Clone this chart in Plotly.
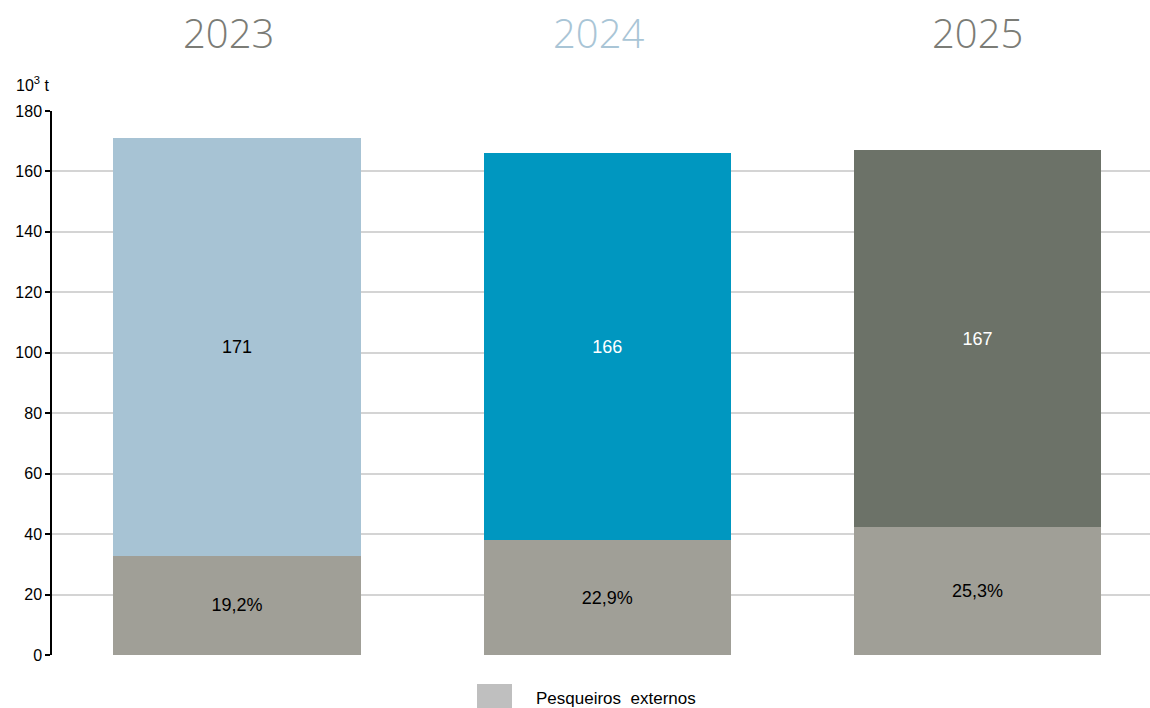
import plotly.graph_objects as go

years = ["2023", "2024", "2025"]
totals = [171, 166, 167]
ext_share = [19.2, 22.9, 25.3]
total_labels = ["171", "166", "167"]
share_labels = ["19,2%", "22,9%", "25,3%"]
top_colors = ["#a7c3d4", "#0097c0", "#6c7268"]
top_text_colors = ["#000000", "#ffffff", "#ffffff"]
bottom_color = "#a09f97"
year_colors = ["#7b7c76", "#a9c5d6", "#7b7c76"]
y_ticks = [0, 20, 40, 60, 80, 100, 120, 140, 160, 180]

bottom_vals = [t * s / 100 for t, s in zip(totals, ext_share)]
top_vals = [t - b for t, b in zip(totals, bottom_vals)]
xs = [0, 1, 2]

FONT = "Liberation Sans, Arial, sans-serif"

fig = go.Figure()
fig.add_trace(go.Bar(
    x=xs, y=bottom_vals, marker_color=bottom_color, width=0.668,
    marker_line_width=0,
    text=share_labels, textposition="inside", insidetextanchor="middle",
    textfont=dict(color="#000000", size=18, family=FONT),
    name="Pesqueiros externos", showlegend=False, hoverinfo="skip",
))
fig.add_trace(go.Bar(
    x=xs, y=top_vals, marker_color=top_colors, width=0.668,
    marker_line_width=0,
    text=total_labels, textposition="inside", insidetextanchor="middle",
    textfont=dict(color=top_text_colors, size=18, family=FONT),
    showlegend=False, hoverinfo="skip",
))

shifts = [-9, -9, 0]
for i, (yr, col) in enumerate(zip(years, year_colors)):
    fig.add_annotation(
        x=xs[i], y=1.0, xref="x", yref="paper", xshift=shifts[i],
        text=yr, showarrow=False, yanchor="middle",
        yshift=111 - 32,
        font=dict(family="Open Sans, sans-serif", size=40, color=col, weight=300),
    )

fig.add_annotation(
    x=0, xref="paper", xanchor="left", xshift=-38,
    y=1.0, yref="paper", yanchor="middle", yshift=27,
    text="10<sup>3</sup> t", showarrow=False,
    font=dict(family=FONT, size=16, color="#000000"),
)

# legend swatch + label
fig.add_shape(type="rect", xref="paper", yref="paper",
              x0=(477 - 52) / 1098, x1=(512 - 52) / 1098,
              y0=-(712 - 655) / 544, y1=-(684 - 655) / 544,
              fillcolor="#bfbfbf", line_width=0)
fig.add_annotation(
    x=(534 - 52) / 1098, xref="paper", xanchor="left",
    y=-(698 - 655) / 544, yref="paper", yanchor="middle",
    text="Pesqueiros&nbsp; externos", showarrow=False,
    font=dict(family=FONT, size=17, color="#000000"),
)

fig.update_layout(
    barmode="stack",
    width=1150, height=708,
    margin=dict(l=52, r=0, t=111, b=53),
    paper_bgcolor="#ffffff", plot_bgcolor="#ffffff",
    showlegend=False,
    uniformtext=dict(mode="show", minsize=10),
)
fig.update_xaxes(range=[-0.5, 2.466], showticklabels=False, showgrid=False,
                 zeroline=False, showline=False, ticks="")
fig.update_yaxes(range=[0, 180], tickvals=y_ticks, showgrid=True,
                 gridcolor="#d4d4d4", gridwidth=2, zeroline=False,
                 showline=True, linecolor="#000000", linewidth=1.5,
                 ticks="outside", ticklen=5, tickcolor="#000000", tickwidth=1.5,
                 tickfont=dict(family=FONT, size=16, color="#000000"))

fig.write_html(
    "out.html",
    config={"displayModeBar": False},
    post_script="document.body.style.margin='0';document.body.style.overflow='hidden';",
)
